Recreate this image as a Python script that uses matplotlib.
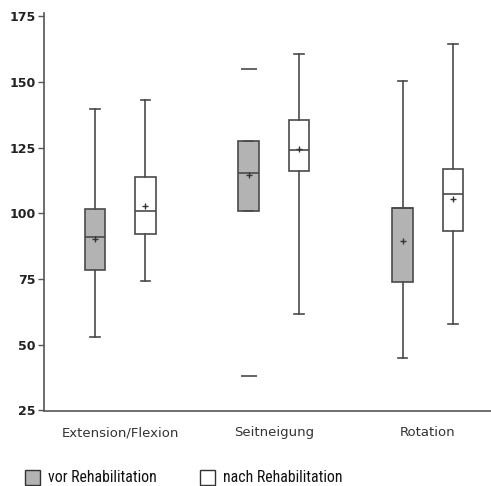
import matplotlib
matplotlib.use("Agg")
import matplotlib.pyplot as plt
from matplotlib.patches import Rectangle
from matplotlib import font_manager

categories = ['Extension/Flexion', 'Seitneigung', 'Rotation']
series_labels = ['vor Rehabilitation', 'nach Rehabilitation']

vor_whislo = [52.8, 101.1, 44.8]
vor_q1 = [78.6, 101.1, 73.9]
vor_med = [91.0, 115.3, 102.1]
vor_q3 = [101.8, 127.5, 102.1]
vor_whishi = [139.7, 127.5, 150.5]
vor_mean = [90.2, 114.6, 89.7]
vor_fliers = [[], [155.0, 38.3], []]

nach_whislo = [74.4, 61.7, 58.0]
nach_q1 = [92.0, 116.1, 93.2]
nach_med = [100.9, 124.0, 107.3]
nach_q3 = [113.9, 135.5, 116.8]
nach_whishi = [143.0, 160.7, 164.5]
nach_mean = [103.0, 124.4, 105.6]
nach_fliers = [[], [], []]

yticks = [25, 50, 75, 100, 125, 150, 175]

installed = {f.name for f in font_manager.fontManager.ttflist}
narrow = [f for f in ['Roboto Condensed', 'Liberation Sans Narrow', 'Roboto'] if f in installed] + ['DejaVu Sans']

W, H = 491, 486
fig = plt.figure(figsize=(W / 100, H / 100), dpi=100)
ax = fig.add_axes([44 / W, (H - 411) / H, 1 - 44 / W, (411 - 13) / H])

edge = '#4a4a4a'
fill_vor = '#b3b3b3'
fill_nach = 'white'


def stats(lo, q1, med, q3, hi, mean, fl):
    out = []
    for i in range(len(lo)):
        out.append(dict(whislo=lo[i], q1=q1[i], med=med[i], q3=q3[i],
                        whishi=hi[i], mean=mean[i], fliers=fl[i]))
    return out


pos = list(range(1, len(categories) + 1))
off = 0.163
for st, dx, fc in [
    (stats(vor_whislo, vor_q1, vor_med, vor_q3, vor_whishi, vor_mean, vor_fliers), -off, fill_vor),
    (stats(nach_whislo, nach_q1, nach_med, nach_q3, nach_whishi, nach_mean, nach_fliers), off, fill_nach),
]:
    ax.bxp(st, positions=[p + dx for p in pos], widths=0.135,
           patch_artist=True, showmeans=True, showfliers=True,
           boxprops=dict(facecolor=fc, edgecolor=edge, linewidth=1.2),
           medianprops=dict(color=edge, linewidth=1.2),
           whiskerprops=dict(color=edge, linewidth=1.2),
           capprops=dict(color=edge, linewidth=1.2),
           capwidths=0.06,
           meanprops=dict(marker='+', markeredgecolor='#333333', markersize=5, markeredgewidth=1.0),
           flierprops=dict(marker='_', markeredgecolor=edge, markersize=11, markeredgewidth=1.2))

ax.set_xlim(0.506, 3.41)
ax.set_ylim(24.8, 176.3)
ax.set_yticks(yticks)
ax.set_yticklabels([str(t) for t in yticks], fontsize=9, color='#222222', fontweight='bold')
ax.set_xticks(pos)
ax.set_xticklabels(categories, fontsize=9.5, color='#333333')
ax.tick_params(axis='x', length=0, pad=11)
ax.tick_params(axis='y', length=4, width=1, color='#555555', pad=2)
for s in ['top', 'right']:
    ax.spines[s].set_visible(False)
for s in ['left', 'bottom']:
    ax.spines[s].set_color('#555555')
    ax.spines[s].set_linewidth(1.2)

# legend
for x0, fc, lab in [(25, fill_vor, series_labels[0]), (200, fill_nach, series_labels[1])]:
    fig.add_artist(Rectangle((x0 / W, 1.5 / H), 15 / W, 15 / H, transform=fig.transFigure,
                             facecolor=fc, edgecolor='#333333', linewidth=1.0))
    fig.text((x0 + 23) / W, 9 / H, lab, fontsize=11.3, va='center', ha='left',
             family=narrow, color='#111111')

fig.savefig('out.png', dpi=100)
